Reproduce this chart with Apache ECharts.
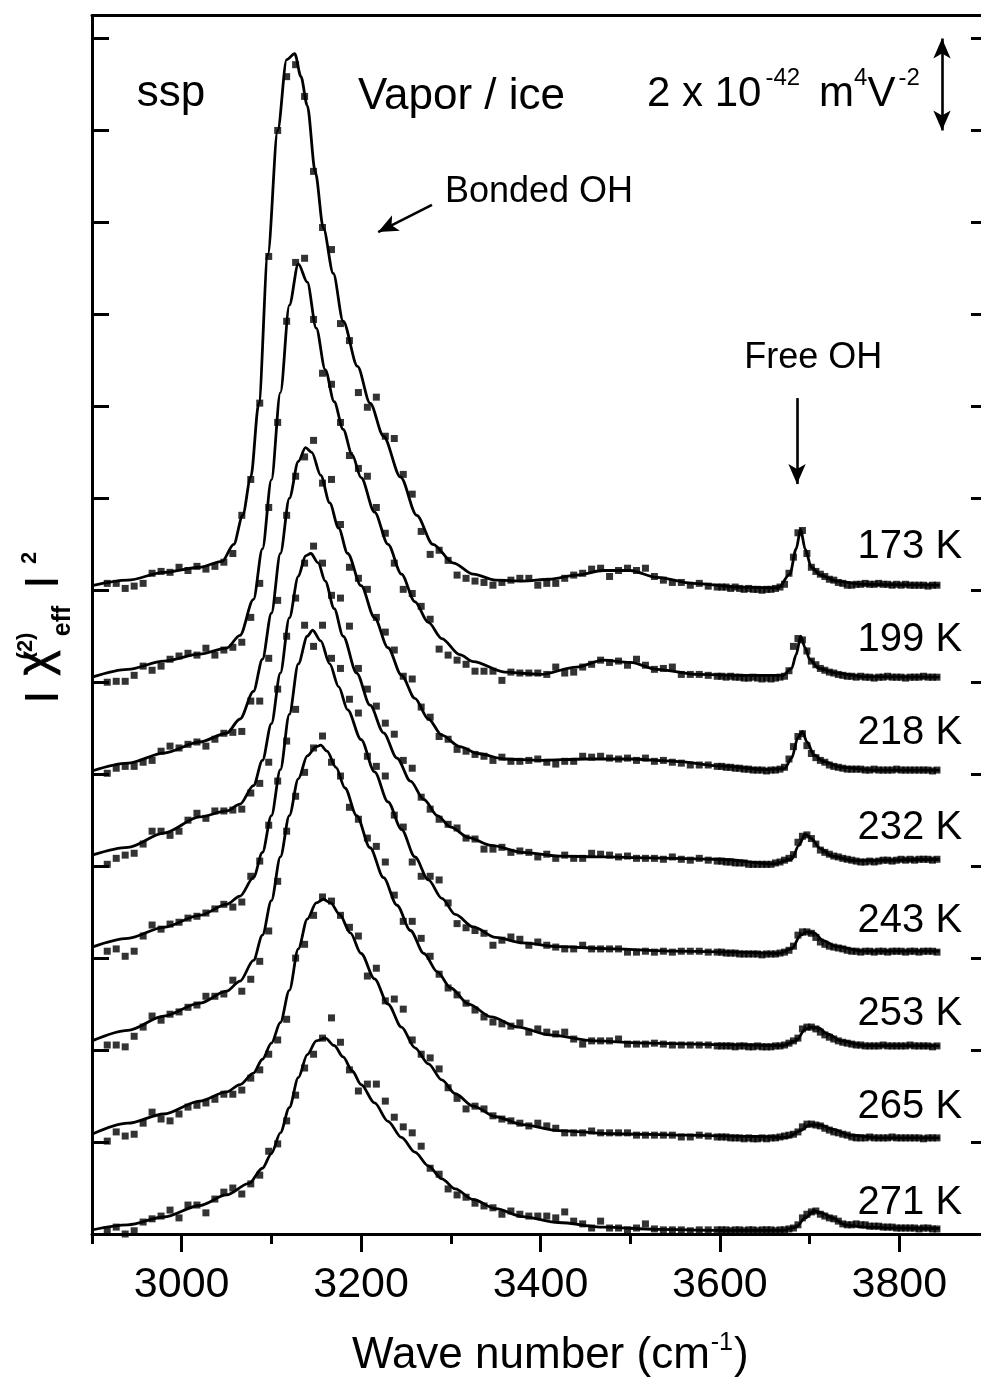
<!DOCTYPE html>
<html>
<head>
<meta charset="utf-8">
<title>Vapor / ice SFG spectra</title>
<script src="https://cdn.jsdelivr.net/npm/echarts@6.0.0/dist/echarts.min.js"></script>
<style>
  html, body { margin: 0; padding: 0; background: #ffffff; }
  #chart { width: 981px; height: 1381px; }
</style>
</head>
<body>
<div id="chart"></div>
<script>
// Sampled wavenumbers (cm^-1); the free-OH region is sampled every 5 cm^-1
const wavenumbers = [
  2917, 2927, 2937, 2947, 2957, 2967, 2977, 2987, 2997, 3007,
  3017, 3027, 3037, 3047, 3057, 3067, 3077, 3087, 3097, 3107,
  3117, 3127, 3137, 3147, 3157, 3167, 3177, 3187, 3197, 3207,
  3217, 3227, 3237, 3247, 3257, 3267, 3277, 3287, 3297, 3307,
  3317, 3327, 3337, 3347, 3357, 3367, 3377, 3387, 3397, 3407,
  3417, 3427, 3437, 3447, 3457, 3467, 3477, 3487, 3497, 3507,
  3517, 3527, 3537, 3547, 3557, 3567, 3577, 3587, 3597,
  3602, 3607, 3612, 3617, 3622, 3627, 3632, 3637, 3642, 3647,
  3652, 3657, 3662, 3667, 3672, 3677, 3682, 3687, 3692, 3697,
  3702, 3707, 3712, 3717, 3722, 3727, 3732, 3737, 3742, 3747,
  3752, 3757, 3762, 3767, 3772, 3777, 3782, 3787, 3792, 3797,
  3802, 3807, 3812, 3817, 3822, 3827, 3832, 3837, 3842
];

const temperatures = ['173 K', '199 K', '218 K', '232 K', '243 K', '253 K', '265 K', '271 K'];
// vertical offset of each spectrum (units of 1e-42 m^4 V^-2)
const offsets = [14, 12, 10, 8, 6, 4, 2, 0];
// height of each temperature label (same units)
const labelLevels = [14.94, 12.92, 10.90, 8.83, 6.81, 4.78, 2.76, 0.68];

// x-axis tick labels
const majorTicks = [3000, 3200, 3400, 3600, 3800];

// measured |chi_eff^(2)|^2 (1e-42 m^4 V^-2), one value per wavenumber
const chi173 = [
  0.15, 0.15, 0.04, 0.09, 0.15, 0.37, 0.41, 0.39, 0.50, 0.43,
  0.52, 0.46, 0.52, 0.61, 0.80, 1.63, 2.41, 4.07, 7.26, 10.00,
  11.17, 11.43, 10.74, 9.11, 7.89, 7.41, 5.80, 5.43, 4.30, 3.98,
  4.20, 3.35, 3.30, 2.52, 2.09, 1.28, 0.78, 0.87, 0.65, 0.33,
  0.26, 0.20, 0.17, 0.11, 0.17, 0.22, 0.26, 0.26, 0.11, 0.15,
  0.15, 0.26, 0.33, 0.37, 0.46, 0.48, 0.30, 0.43, 0.48, 0.43,
  0.48, 0.30, 0.22, 0.17, 0.17, 0.11, 0.15, 0.09, 0.07,
  0.07, 0.07, 0.04, 0.07, 0.04, 0.02, 0.04, 0.02, 0.02, 0.00,
  0.02, 0.02, 0.04, 0.07, 0.13, 0.37, 0.72, 1.25, 1.30, 0.80,
  0.50, 0.41, 0.35, 0.30, 0.24, 0.22, 0.17, 0.15, 0.11, 0.11,
  0.13, 0.13, 0.15, 0.13, 0.13, 0.15, 0.13, 0.13, 0.11, 0.13,
  0.11, 0.13, 0.11, 0.11, 0.11, 0.11, 0.09, 0.11, 0.11
];
const chi199 = [
  0.00, 0.02, 0.02, 0.15, 0.35, 0.26, 0.35, 0.50, 0.57, 0.63,
  0.59, 0.74, 0.59, 0.70, 0.76, 0.87, 1.41, 2.15, 3.80, 5.65,
  7.85, 9.13, 9.22, 7.89, 6.72, 6.48, 5.65, 4.93, 4.65, 4.48,
  3.80, 3.24, 2.59, 2.02, 1.93, 1.65, 1.37, 0.72, 0.59, 0.48,
  0.39, 0.24, 0.24, 0.24, 0.04, 0.22, 0.20, 0.20, 0.20, 0.17,
  0.33, 0.20, 0.22, 0.33, 0.39, 0.48, 0.43, 0.46, 0.37, 0.50,
  0.37, 0.28, 0.30, 0.33, 0.17, 0.17, 0.17, 0.15, 0.13,
  0.13, 0.11, 0.13, 0.11, 0.11, 0.09, 0.09, 0.11, 0.09, 0.07,
  0.09, 0.07, 0.09, 0.11, 0.13, 0.25, 0.78, 0.95, 0.92, 0.68,
  0.46, 0.38, 0.30, 0.26, 0.22, 0.20, 0.17, 0.15, 0.13, 0.13,
  0.11, 0.13, 0.11, 0.11, 0.09, 0.11, 0.11, 0.13, 0.11, 0.11,
  0.11, 0.09, 0.11, 0.11, 0.11, 0.13, 0.11, 0.11, 0.11
];
const chi218 = [
  0.02, 0.13, 0.17, 0.17, 0.26, 0.30, 0.50, 0.61, 0.57, 0.65,
  0.70, 0.61, 0.76, 0.89, 0.91, 0.93, 1.59, 1.59, 2.52, 3.78,
  5.63, 6.48, 6.90, 7.26, 6.33, 6.41, 5.43, 4.50, 4.26, 4.02,
  3.41, 3.09, 2.70, 2.13, 2.07, 1.46, 1.24, 0.82, 0.76, 0.54,
  0.50, 0.43, 0.39, 0.30, 0.37, 0.28, 0.28, 0.30, 0.33, 0.26,
  0.22, 0.28, 0.28, 0.39, 0.37, 0.39, 0.35, 0.33, 0.35, 0.30,
  0.35, 0.28, 0.30, 0.26, 0.24, 0.20, 0.20, 0.20, 0.17,
  0.17, 0.15, 0.15, 0.13, 0.13, 0.11, 0.11, 0.09, 0.09, 0.09,
  0.07, 0.09, 0.09, 0.11, 0.15, 0.33, 0.60, 0.82, 0.88, 0.62,
  0.45, 0.36, 0.30, 0.26, 0.20, 0.17, 0.15, 0.13, 0.11, 0.11,
  0.11, 0.11, 0.09, 0.09, 0.11, 0.09, 0.09, 0.09, 0.09, 0.11,
  0.09, 0.09, 0.09, 0.09, 0.09, 0.09, 0.09, 0.07, 0.09
];
const chi232 = [
  0.04, 0.17, 0.24, 0.28, 0.48, 0.76, 0.76, 0.67, 0.76, 1.00,
  1.15, 1.04, 1.20, 1.20, 1.22, 1.24, 1.59, 1.80, 2.26, 3.85,
  5.00, 5.83, 6.59, 6.96, 6.59, 5.89, 5.83, 5.22, 4.30, 3.85,
  3.48, 3.11, 2.87, 2.30, 2.13, 1.50, 1.24, 1.02, 0.91, 0.83,
  0.61, 0.59, 0.37, 0.37, 0.41, 0.30, 0.33, 0.30, 0.20, 0.26,
  0.17, 0.24, 0.17, 0.17, 0.28, 0.26, 0.24, 0.20, 0.22, 0.17,
  0.17, 0.17, 0.15, 0.20, 0.15, 0.13, 0.17, 0.13, 0.11,
  0.11, 0.09, 0.09, 0.07, 0.07, 0.07, 0.04, 0.04, 0.04, 0.04,
  0.04, 0.04, 0.07, 0.09, 0.13, 0.17, 0.25, 0.52, 0.65, 0.68,
  0.60, 0.48, 0.35, 0.30, 0.26, 0.22, 0.20, 0.17, 0.15, 0.13,
  0.11, 0.09, 0.09, 0.11, 0.09, 0.11, 0.13, 0.13, 0.11, 0.13,
  0.15, 0.13, 0.15, 0.13, 0.15, 0.15, 0.15, 0.13, 0.15
];
const chi243 = [
  0.15, 0.20, 0.04, 0.15, 0.48, 0.72, 0.63, 0.74, 0.78, 0.87,
  0.91, 0.98, 1.07, 1.17, 1.11, 1.22, 1.78, 2.11, 2.89, 3.85,
  4.72, 5.41, 7.24, 6.78, 7.24, 6.52, 6.30, 5.63, 5.33, 4.39,
  4.17, 3.96, 3.11, 2.85, 2.09, 1.78, 1.78, 1.70, 1.20, 0.75,
  0.66, 0.60, 0.54, 0.28, 0.39, 0.46, 0.41, 0.28, 0.35, 0.28,
  0.24, 0.20, 0.20, 0.28, 0.20, 0.20, 0.20, 0.20, 0.13, 0.13,
  0.15, 0.13, 0.15, 0.13, 0.15, 0.15, 0.15, 0.13, 0.13,
  0.13, 0.11, 0.11, 0.11, 0.09, 0.09, 0.09, 0.09, 0.09, 0.07,
  0.09, 0.09, 0.09, 0.11, 0.13, 0.17, 0.26, 0.50, 0.57, 0.57,
  0.54, 0.45, 0.35, 0.30, 0.26, 0.24, 0.22, 0.20, 0.17, 0.15,
  0.15, 0.13, 0.15, 0.15, 0.13, 0.15, 0.15, 0.13, 0.15, 0.15,
  0.15, 0.13, 0.15, 0.15, 0.13, 0.15, 0.15, 0.15, 0.13
];
const chi253 = [
  0.11, 0.11, 0.07, 0.30, 0.50, 0.74, 0.65, 0.78, 0.83, 0.93,
  0.98, 1.17, 1.17, 1.22, 1.52, 1.28, 1.54, 1.93, 2.59, 3.67,
  4.76, 5.52, 6.04, 6.57, 6.83, 6.26, 5.96, 5.28, 5.02, 4.61,
  4.43, 4.09, 3.37, 2.80, 2.80, 2.43, 2.04, 1.65, 1.35, 1.20,
  1.02, 0.87, 0.72, 0.61, 0.57, 0.52, 0.59, 0.39, 0.46, 0.39,
  0.35, 0.39, 0.24, 0.13, 0.20, 0.20, 0.20, 0.24, 0.13, 0.13,
  0.13, 0.15, 0.13, 0.11, 0.11, 0.11, 0.11, 0.11, 0.09,
  0.09, 0.09, 0.09, 0.07, 0.09, 0.09, 0.07, 0.07, 0.09, 0.07,
  0.07, 0.07, 0.09, 0.09, 0.11, 0.15, 0.20, 0.26, 0.46, 0.50,
  0.50, 0.46, 0.39, 0.33, 0.28, 0.24, 0.20, 0.17, 0.15, 0.13,
  0.11, 0.11, 0.09, 0.09, 0.09, 0.09, 0.11, 0.09, 0.09, 0.09,
  0.09, 0.09, 0.11, 0.09, 0.09, 0.09, 0.09, 0.07, 0.09
];
const chi265 = [
  0.02, 0.22, 0.13, 0.17, 0.41, 0.65, 0.50, 0.46, 0.61, 0.76,
  0.80, 0.85, 0.93, 1.04, 1.04, 1.13, 1.39, 1.57, 1.91, 2.22,
  2.67, 4.00, 4.30, 4.93, 5.33, 5.24, 4.93, 4.67, 4.48, 3.61,
  3.78, 3.07, 3.11, 2.89, 2.22, 1.91, 1.83, 1.59, 1.18, 0.95,
  0.72, 0.78, 0.72, 0.57, 0.50, 0.46, 0.41, 0.35, 0.41, 0.35,
  0.30, 0.20, 0.20, 0.20, 0.24, 0.20, 0.20, 0.20, 0.20, 0.15,
  0.15, 0.15, 0.15, 0.15, 0.11, 0.11, 0.15, 0.13, 0.11,
  0.11, 0.11, 0.09, 0.09, 0.09, 0.07, 0.09, 0.07, 0.07, 0.09,
  0.07, 0.09, 0.09, 0.11, 0.13, 0.15, 0.17, 0.22, 0.33, 0.39,
  0.39, 0.37, 0.35, 0.30, 0.26, 0.22, 0.20, 0.17, 0.15, 0.11,
  0.09, 0.09, 0.09, 0.11, 0.09, 0.09, 0.09, 0.09, 0.11, 0.09,
  0.09, 0.09, 0.09, 0.09, 0.09, 0.07, 0.09, 0.09, 0.09
];
const chi271 = [
  0.09, 0.15, 0.00, 0.07, 0.26, 0.33, 0.39, 0.52, 0.35, 0.63,
  0.63, 0.46, 0.76, 0.91, 1.00, 0.87, 1.09, 1.28, 1.80, 1.96,
  2.46, 3.02, 3.61, 3.91, 4.26, 4.70, 4.17, 3.57, 3.11, 3.26,
  3.26, 2.89, 2.54, 2.33, 2.20, 1.91, 1.43, 1.30, 0.98, 0.85,
  0.80, 0.67, 0.61, 0.57, 0.43, 0.50, 0.43, 0.39, 0.39, 0.39,
  0.35, 0.48, 0.28, 0.22, 0.13, 0.28, 0.13, 0.13, 0.09, 0.13,
  0.22, 0.11, 0.09, 0.09, 0.09, 0.07, 0.09, 0.09, 0.09,
  0.09, 0.09, 0.07, 0.09, 0.09, 0.07, 0.09, 0.09, 0.07, 0.09,
  0.09, 0.09, 0.07, 0.09, 0.09, 0.11, 0.13, 0.20, 0.35, 0.43,
  0.48, 0.50, 0.43, 0.39, 0.35, 0.33, 0.28, 0.22, 0.20, 0.20,
  0.22, 0.20, 0.20, 0.17, 0.17, 0.17, 0.15, 0.15, 0.15, 0.13,
  0.13, 0.13, 0.13, 0.13, 0.11, 0.13, 0.13, 0.11, 0.11
];

// fitted line shapes: [wavenumber, |chi_eff^(2)|^2]
const fit173 = [[2900,0.10],[2940,0.22],[2980,0.39],[3020,0.50],[3045,0.63],[3058,1.00],[3068,1.63],[3077,2.46],[3086,4.07],[3096,7.30],[3107,10.00],[3117,11.54],[3126,11.67],[3133,11.17],[3140,10.54],[3149,9.09],[3158,7.87],[3169,6.89],[3180,5.85],[3196,4.87],[3210,4.07],[3225,3.35],[3244,2.46],[3262,1.63],[3280,1.00],[3303,0.59],[3325,0.35],[3350,0.22],[3380,0.20],[3410,0.24],[3440,0.33],[3470,0.43],[3500,0.43],[3530,0.28],[3570,0.15],[3620,0.07],[3665,0.05],[3678,0.35],[3685,0.90],[3690,1.33],[3695,0.90],[3702,0.50],[3712,0.33],[3730,0.20],[3760,0.13],[3845,0.11]];
const fit199 = [[2900,0.11],[2940,0.28],[2980,0.46],[3020,0.61],[3050,0.74],[3065,1.02],[3080,1.80],[3090,2.90],[3100,4.40],[3110,6.30],[3120,8.20],[3130,9.10],[3140,8.70],[3150,7.70],[3160,6.80],[3170,6.10],[3180,5.50],[3190,4.95],[3200,4.45],[3215,3.70],[3230,3.00],[3245,2.35],[3260,1.75],[3275,1.30],[3290,0.95],[3310,0.60],[3325,0.45],[3360,0.22],[3400,0.17],[3440,0.33],[3470,0.48],[3500,0.43],[3530,0.28],[3575,0.17],[3620,0.15],[3670,0.15],[3680,0.30],[3685,0.60],[3690,1.00],[3695,0.75],[3700,0.50],[3710,0.30],[3730,0.20],[3760,0.12],[3845,0.11]];
const fit218 = [[2900,0.07],[2940,0.24],[2980,0.46],[3020,0.70],[3050,0.89],[3065,1.20],[3080,1.80],[3090,2.50],[3100,3.50],[3110,4.80],[3120,6.00],[3130,6.80],[3138,7.10],[3145,7.00],[3155,6.50],[3165,5.90],[3175,5.35],[3185,4.80],[3200,4.10],[3215,3.40],[3230,2.75],[3245,2.15],[3260,1.65],[3275,1.20],[3290,0.85],[3310,0.60],[3330,0.45],[3360,0.33],[3400,0.30],[3450,0.33],[3500,0.33],[3550,0.28],[3600,0.18],[3650,0.10],[3672,0.12],[3680,0.35],[3687,0.80],[3692,0.93],[3697,0.70],[3705,0.42],[3715,0.28],[3735,0.15],[3770,0.09],[3845,0.09]];
const fit232 = [[2900,0.24],[2940,0.41],[2980,0.72],[3020,1.07],[3050,1.20],[3065,1.35],[3080,1.75],[3090,2.30],[3100,3.10],[3110,4.20],[3120,5.40],[3130,6.30],[3138,6.75],[3144,6.80],[3152,6.60],[3160,6.20],[3170,5.60],[3180,5.00],[3195,4.20],[3210,3.50],[3225,2.90],[3240,2.35],[3255,1.85],[3270,1.45],[3285,1.10],[3300,0.85],[3320,0.62],[3345,0.45],[3380,0.30],[3420,0.22],[3470,0.20],[3520,0.18],[3600,0.15],[3660,0.05],[3680,0.15],[3688,0.45],[3695,0.70],[3702,0.60],[3712,0.38],[3725,0.22],[3750,0.12],[3845,0.15]];
const fit243 = [[2900,0.24],[2940,0.43],[2980,0.67],[3020,0.93],[3050,1.17],[3065,1.35],[3080,1.75],[3090,2.30],[3100,3.10],[3110,4.10],[3120,5.30],[3130,6.40],[3140,7.00],[3146,7.13],[3155,6.90],[3165,6.40],[3175,5.90],[3185,5.40],[3200,4.75],[3215,4.05],[3230,3.40],[3245,2.80],[3260,2.20],[3275,1.70],[3290,1.30],[3305,0.95],[3325,0.68],[3350,0.45],[3380,0.33],[3420,0.25],[3480,0.20],[3550,0.15],[3620,0.13],[3665,0.10],[3680,0.20],[3690,0.50],[3697,0.57],[3705,0.55],[3715,0.38],[3730,0.25],[3760,0.15],[3845,0.15]];
const fit253 = [[2900,0.20],[2940,0.43],[2980,0.74],[3020,1.02],[3050,1.28],[3065,1.50],[3080,1.95],[3090,2.50],[3100,3.25],[3110,4.20],[3120,5.10],[3130,5.90],[3140,6.40],[3150,6.60],[3155,6.63],[3162,6.50],[3172,6.15],[3182,5.70],[3195,5.10],[3210,4.40],[3225,3.75],[3240,3.15],[3255,2.60],[3270,2.10],[3285,1.70],[3300,1.35],[3320,1.00],[3345,0.72],[3375,0.50],[3410,0.33],[3460,0.20],[3520,0.15],[3600,0.12],[3670,0.10],[3685,0.20],[3695,0.45],[3702,0.50],[3710,0.48],[3720,0.35],[3735,0.20],[3760,0.10],[3845,0.09]];
const fit265 = [[2900,0.17],[2940,0.41],[2980,0.61],[3020,0.89],[3050,1.09],[3065,1.25],[3080,1.50],[3090,1.80],[3100,2.15],[3110,2.60],[3120,3.30],[3130,4.20],[3140,4.85],[3150,5.20],[3158,5.28],[3166,5.20],[3176,4.95],[3188,4.55],[3200,4.10],[3215,3.55],[3230,3.00],[3245,2.50],[3260,2.05],[3275,1.70],[3290,1.35],[3305,1.05],[3325,0.78],[3350,0.55],[3380,0.38],[3420,0.25],[3480,0.18],[3560,0.15],[3640,0.12],[3675,0.10],[3690,0.25],[3700,0.37],[3712,0.37],[3725,0.28],[3745,0.15],[3780,0.09],[3845,0.09]];
const fit271 = [[2900,0.09],[2940,0.20],[2980,0.37],[3020,0.62],[3050,0.85],[3075,1.10],[3090,1.43],[3100,1.75],[3110,2.20],[3120,2.75],[3130,3.40],[3140,3.90],[3150,4.20],[3160,4.26],[3170,4.10],[3180,3.85],[3190,3.55],[3200,3.25],[3215,2.85],[3230,2.45],[3245,2.10],[3260,1.78],[3275,1.48],[3290,1.20],[3305,0.98],[3325,0.75],[3350,0.55],[3380,0.38],[3420,0.25],[3470,0.15],[3530,0.10],[3600,0.08],[3670,0.08],[3685,0.15],[3695,0.35],[3705,0.50],[3715,0.45],[3725,0.35],[3740,0.20],[3760,0.15],[3800,0.13],[3845,0.12]];

const measured = [chi173, chi199, chi218, chi232, chi243, chi253, chi265, chi271];
const fitted = [fit173, fit199, fit218, fit232, fit243, fit253, fit265, fit271];

const INK = '#000000';
const FONT = '"Liberation Sans", Arial, Helvetica, sans-serif';

// annotation arrows (data coordinates)
const arrows = [
  { from: [3279, 22.38], to: [3219, 21.79], heads: ['none', 'arrow'] },   // Bonded OH
  { from: [3686, 18.18], to: [3686, 16.31], heads: ['none', 'arrow'] },   // Free OH
  { from: [3847.6, 24.0], to: [3847.6, 26.0], heads: ['arrow', 'arrow'] } // scale bar
];

const chart = echarts.init(document.getElementById('chart'), null, { renderer: 'canvas' });

const series = [];
temperatures.forEach((t, k) => {
  const off = offsets[k];
  series.push({
    type: 'line', name: t + ' fit', xAxisIndex: 0, yAxisIndex: 0,
    data: fitted[k].map(p => [p[0], p[1] + off]),
    showSymbol: false, symbol: 'none', smooth: 0.3, smoothMonotone: 'x',
    lineStyle: { color: INK, width: 2.8 }, silent: true, z: 3
  });
  series.push({
    type: 'scatter', name: t, xAxisIndex: 0, yAxisIndex: 0,
    data: wavenumbers.map((w, i) => [w, measured[k][i] + off]),
    symbol: 'rect', symbolSize: 7, itemStyle: { color: INK }, silent: true, z: 4
  });
});

series[0].markLine = {
  silent: true, animation: false,
  label: { show: false },
  lineStyle: { color: INK, width: 2.6, type: 'solid' },
  symbolSize: [13, 20],
  data: arrows.map(a => [
    { coord: a.from, symbol: a.heads[0] },
    { coord: a.to, symbol: a.heads[1] }
  ])
};

const axisLine = { show: true, onZero: false, lineStyle: { color: INK, width: 3 } };

const option = {
  animation: false,
  backgroundColor: '#ffffff',
  grid: { left: 92, right: -8, top: 15.5, bottom: 147, containLabel: false, outerBoundsMode: 'none' },
  xAxis: [
    {
      type: 'value', position: 'bottom', min: 2900, max: 3900, interval: 100,
      axisLine: axisLine,
      axisTick: { show: true, inside: false, length: 18, lineStyle: { color: INK, width: 3 }, customValues: majorTicks },
      axisLabel: { show: true, customValues: majorTicks, formatter: v => String(v), margin: 30,
                   color: INK, fontSize: 43, fontFamily: FONT },
      splitLine: { show: false }
    },
    {
      type: 'value', position: 'bottom', min: 2900, max: 3900, interval: 100,
      axisLine: { show: false },
      axisTick: { show: true, inside: false, length: 10, lineStyle: { color: INK, width: 3 } },
      axisLabel: { show: false }, splitLine: { show: false }
    },
    {
      type: 'value', position: 'top', min: 2900, max: 3900,
      axisLine: axisLine, axisTick: { show: false }, axisLabel: { show: false }, splitLine: { show: false }
    }
  ],
  yAxis: [
    {
      type: 'value', position: 'left', min: 0, max: 26.5, interval: 2,
      axisLine: axisLine,
      axisTick: { show: true, inside: true, length: 17, lineStyle: { color: INK, width: 3 } },
      axisLabel: { show: false }, splitLine: { show: false }
    },
    {
      type: 'value', position: 'right', min: 0, max: 26.5, interval: 2,
      axisLine: axisLine,
      axisTick: { show: true, inside: true, length: 18, lineStyle: { color: INK, width: 3 } },
      axisLabel: { show: false }, splitLine: { show: false }
    }
  ],
  series: series
};
chart.setOption(option);

// ---- text annotations placed in data coordinates ----
const toPx = p => chart.convertToPixel({ xAxisIndex: 0, yAxisIndex: 0 }, p);
const graphics = [];
function addText(text, at, size, align, extra) {
  const [x, y] = toPx(at);
  graphics.push({
    type: 'text', x: x, y: y, silent: true, z: 10,
    style: Object.assign({ text: text, fill: INK, fontSize: size, fontFamily: FONT,
                           align: align, verticalAlign: 'middle' }, extra || {})
  });
}

addText('ssp', [2950, 24.79], 44, 'left');
addText('Vapor / ice', [3196.5, 24.73], 44, 'left');
addText('Bonded OH', [3293.5, 22.66], 36, 'left');
addText('Free OH', [3704, 19.05], 36, 'center');
temperatures.forEach((t, k) => addText(t, [3870, labelLevels[k]], 40, 'right'));

// scale-bar label with superscripts
{
  const [x, y] = toPx([3518.7, 24.32]);
  graphics.push({
    type: 'text', x: x, y: y, silent: true, z: 10,
    style: {
      text: '{b|2 x 10}{s1|-42}{m|m}{s|4}{b|V}{s2|-2}',
      align: 'left', verticalAlign: 'bottom', fill: INK, fontFamily: FONT,
      rich: {
        b: { fontSize: 42, lineHeight: 42, verticalAlign: 'bottom', fontFamily: FONT, fill: INK },
        m: { fontSize: 42, lineHeight: 42, verticalAlign: 'bottom', fontFamily: FONT, fill: INK, padding: [0, 0, 0, 19] },
        s: { fontSize: 24, lineHeight: 24, verticalAlign: 'bottom', fontFamily: FONT, fill: INK, padding: [0, 0, 25, 0] },
        s1: { fontSize: 24, lineHeight: 24, verticalAlign: 'bottom', fontFamily: FONT, fill: INK, padding: [0, 0, 25, 4] },
        s2: { fontSize: 24, lineHeight: 24, verticalAlign: 'bottom', fontFamily: FONT, fill: INK, padding: [0, 0, 25, 3] }
      }
    }
  });
}

// x-axis title
graphics.push({
  type: 'text', x: 352, y: 1378, silent: true, z: 10,
  style: {
    text: '{b|Wave number (cm}{s|-1}{b|)}',
    align: 'left', verticalAlign: 'bottom', fill: INK, fontFamily: FONT,
    rich: {
      b: { fontSize: 44, lineHeight: 44, verticalAlign: 'bottom', fontFamily: FONT, fill: INK },
      s: { fontSize: 25, lineHeight: 25, verticalAlign: 'bottom', fontFamily: FONT, fill: INK, padding: [0, 1, 22, 1] }
    }
  }
});

// y-axis title |chi_eff^(2)|^2, written bottom-to-top
const yTitleParts = [
  { text: '|', X: 41, Y: 697, size: 34, weight: 'normal', stroke: 2 },
  { text: 'χ', X: 37, Y: 663, size: 48, weight: 'normal', stroke: 0.8 },
  { text: '(2)', X: 26, Y: 646, size: 22, weight: 'bold', stroke: 0 },
  { text: 'eff', X: 63, Y: 621, size: 25, weight: 'bold', stroke: 0 },
  { text: '|', X: 41, Y: 582, size: 34, weight: 'normal', stroke: 2 },
  { text: '2', X: 30, Y: 558, size: 22, weight: 'bold', stroke: 0 }
];
graphics.push({
  type: 'group', x: 0, y: 0, rotation: Math.PI / 2, silent: true,
  children: yTitleParts.map(p => ({
    type: 'text', x: -p.Y, y: p.X, silent: true, z: 10,
    style: {
      text: p.text, fill: INK, fontSize: p.size, fontWeight: p.weight, fontFamily: FONT,
      align: 'center', verticalAlign: 'middle',
      stroke: p.stroke ? INK : null, lineWidth: p.stroke
    }
  }))
});

chart.setOption({ graphic: graphics });
</script>
</body>
</html>
